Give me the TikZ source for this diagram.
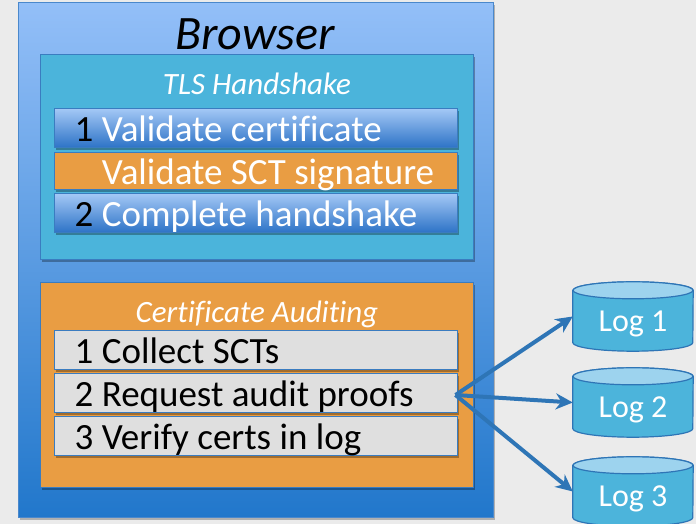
\documentclass[tikz,border=0pt]{standalone}
\usepackage{fontspec}
\setmainfont{Carlito}[Ligatures=NoCommon]
\usetikzlibrary{arrows.meta,shadows}
\definecolor{bgc}{HTML}{EBEBEB}
\definecolor{brtop}{HTML}{93BFF8}
\definecolor{brbot}{HTML}{2177CB}
\definecolor{brline}{HTML}{4A88CC}
\definecolor{tlsfill}{HTML}{4BB4DB}
\definecolor{boxline}{HTML}{3A7CC0}
\definecolor{rowtop}{HTML}{A2C7F5}
\definecolor{rowbot}{HTML}{2C72C6}
\definecolor{orng}{HTML}{E99D43}
\definecolor{grayrow}{HTML}{DFDFDF}
\definecolor{arrowc}{HTML}{2E75B6}
\definecolor{logbody}{HTML}{4CB4DB}
\definecolor{logtop}{HTML}{9DD3EE}
\definecolor{logline}{HTML}{2E75B6}
\newcommand\drawcyl[1]{%
  \path[draw=logline,line width=1.2pt,fill=logbody]
    ([yshift=-8.5pt]#1.north west) -- ([yshift=8.5pt]#1.south west)
    arc[start angle=180,end angle=360,x radius=60pt,y radius=8.5pt]
    -- ([yshift=-8.5pt]#1.north east)
    arc[start angle=0,end angle=180,x radius=60pt,y radius=8.5pt] -- cycle;
  \path[draw=logline,line width=1.2pt,fill=logtop]
    ([yshift=-8.5pt]#1.north) ellipse[x radius=60pt,y radius=8.5pt];}
\begin{document}
\begin{tikzpicture}[x=1pt,y=1pt,
  shd/.style={drop shadow={shadow xshift=2pt,shadow yshift=-2.5pt,opacity=0.3,fill=black}},
  bigbox/.style={draw=boxline,line width=1pt,inner sep=0pt,minimum width=433pt,minimum height=205pt,shd},
  rowbase/.style={draw=boxline,line width=1pt,minimum width=403pt,inner sep=0pt,shd},
  bluerow/.style={rowbase,top color=rowtop,bottom color=rowbot,minimum height=39pt},
  orangerow/.style={rowbase,fill=orng,minimum height=37pt},
  grayrow/.style={rowbase,fill=grayrow,minimum height=39pt},
  rowtext/.style={anchor=west,inner sep=0pt,font=\fontsize{37}{40}\selectfont,text height=23.8pt,text depth=0pt,yshift=-1.5pt},
  lbl/.style={font=\fontsize{31}{34}\selectfont\itshape,text=white,inner sep=0pt,text height=20pt,text depth=0pt},
  logn/.style={minimum width=120pt,minimum height=69pt,inner sep=0pt,text=white,font=\fontsize{32}{36}\selectfont,text height=20.6pt,text depth=0pt},
  conn/.style={draw=arrowc,line width=4pt,-{Stealth[length=17pt,width=16pt]}}]
\useasboundingbox (0,0) rectangle (696,524);
\clip (0,0) rectangle (696,524);
\fill[bgc] (0,0) rectangle (696,524);
% browser
\node[draw=brline,line width=1pt,top color=brtop,bottom color=brbot,minimum width=475pt,minimum height=515pt,inner sep=0pt,
  drop shadow={shadow xshift=2pt,shadow yshift=-2pt,opacity=0.25,fill=black}] (browser) at (255.5,263.5) {};
\node[font=\fontsize{48}{50}\selectfont\itshape,inner sep=0pt,text height=30.5pt,text depth=0pt] (browserlbl) at (255,490) {Browser};
% TLS
\node[bigbox,fill=tlsfill] (tls) at (256.5,366.5) {};
\node[lbl] (tlslbl) at (257,439) {TLS Handshake};
\node[bluerow] (r1) at (255.5,395.5) {};
\node[orangerow] (r2) at (255.5,352.5) {};
\node[bluerow] (r3) at (255.5,310.5) {};
\node[rowtext,text=white] (t1) at ([xshift=21pt]r1.west) {{\color{black}1} Validate certificate};
\node[rowtext,text=white] (t2) at ([xshift=21pt]r2.west) {\phantom{1} Validate SCT signature};
\node[rowtext,text=white] (t3) at ([xshift=21pt]r3.west) {{\color{black}2} Complete handshake};
% Certificate auditing
\node[bigbox,fill=orng] (ca) at (256.5,138.5) {};
\node[lbl] (calbl) at (257,211) {Certificate Auditing};
\node[grayrow] (g1) at (255.5,173.5) {};
\node[grayrow] (g2) at (255.5,130.5) {};
\node[grayrow] (g3) at (255.5,88) {};
\node[rowtext] (u1) at ([xshift=21pt]g1.west) {1 Collect SCTs};
\node[rowtext] (u2) at ([xshift=21pt]g2.west) {2 Request audit proofs};
\node[rowtext] (u3) at ([xshift=21pt]g3.west) {3 Verify certs in log};
% logs
\node[logn] (log1) at (633,207.5) {};
\node[logn] (log2) at (633,121.5) {};
\node[logn] (log3) at (633,32.5) {};
\drawcyl{log1}\drawcyl{log2}\drawcyl{log3}
\node[logn] (l1t) at (log1) {\raisebox{-5pt}{Log 1}};
\node[logn] (l2t) at (log2) {\raisebox{-5pt}{Log 2}};
\node[logn] (l3t) at (log3) {\raisebox{-5pt}{Log 3}};
% connectors
\coordinate (src) at ([xshift=-2pt,yshift=-1.5pt]g2.east);
\draw[conn] (src) -- (log1.west);
\draw[conn] (src) -- (log2.west);
\draw[conn] (src) -- (log3.west);
\end{tikzpicture}
\end{document}
